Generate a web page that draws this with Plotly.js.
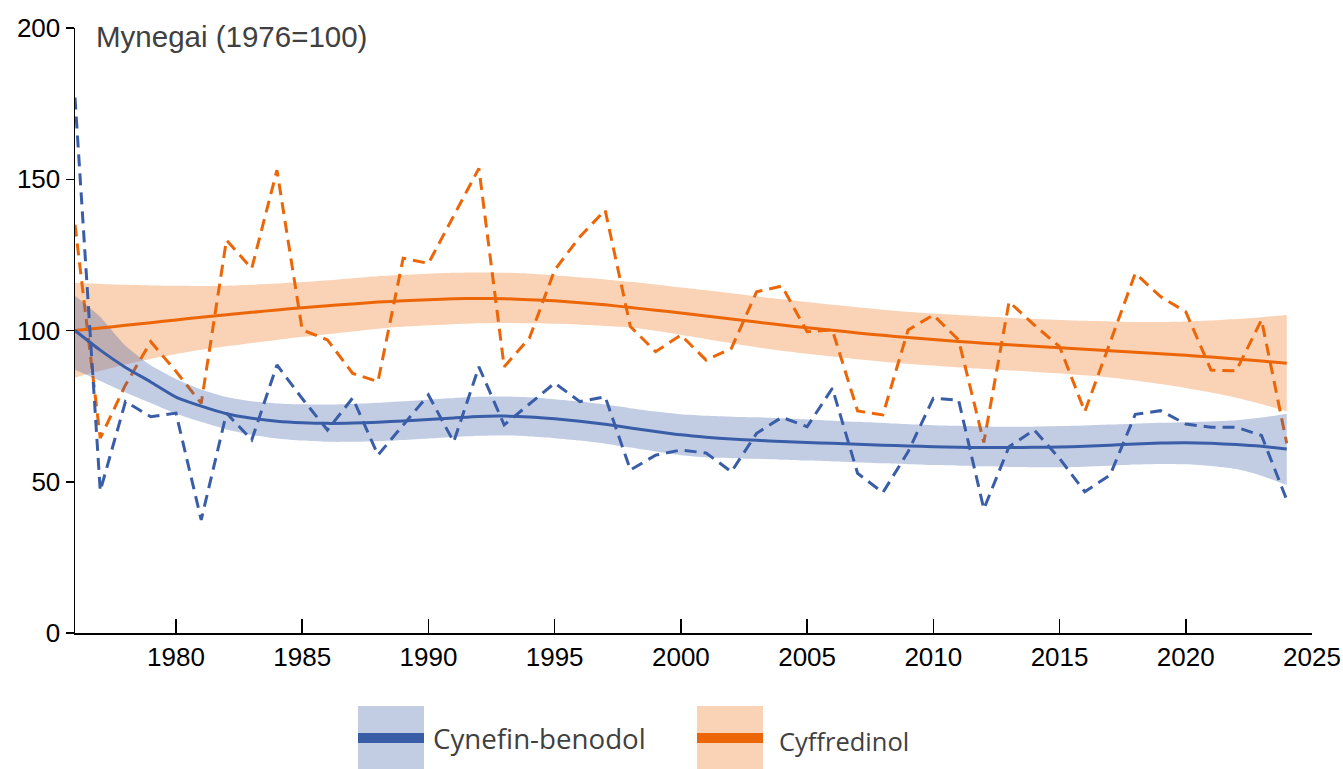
<!DOCTYPE html>
<html>
<head>
<meta charset="utf-8">
<script src="https://cdn.plot.ly/plotly-3.0.1.min.js"></script>
<style>html,body{margin:0;padding:0;background:#fff;}#chart{width:1343px;height:769px;}</style>
</head>
<body>
<div id="chart"></div>
<script>
const years = [1976,1977,1978,1979,1980,1981,1982,1983,1984,1985,1986,1987,1988,1989,1990,1991,1992,1993,1994,1995,1996,1997,1998,1999,2000,2001,2002,2003,2004,2005,2006,2007,2008,2009,2010,2011,2012,2013,2014,2015,2016,2017,2018,2019,2020,2021,2022,2023,2024];

const seriesNames = ["Cynefin-benodol", "Cyffredinol"];
const titleText = "Mynegai (1976=100)";
const xTicks = [1980,1985,1990,1995,2000,2005,2010,2015,2020,2025];
const yTicks = [0,50,100,150,200];

// Cynefin-benodol (blue)
const blueIndex = [177,47,76.5,71.5,72.7,37.4,72.7,63.8,88.6,77.5,67.1,77.7,58.8,68.9,78.7,63.2,88,68.8,75.7,82.6,76.5,78.1,53.9,58.8,60.5,59.5,53.3,66,71.3,68.2,80.9,52.8,46.4,59.9,77.6,77,41,61.6,67.1,57.7,46.7,52.2,72.3,73.5,69.1,68,68,65.3,44];
const blueTrend = [100,93.5,87.8,83,78,75,72.5,71,70,69.5,69.3,69.4,69.7,70.1,70.6,71.1,71.6,71.7,71.4,70.8,70,69,67.8,66.6,65.5,64.7,64.1,63.7,63.3,63,62.7,62.4,62.1,61.8,61.6,61.4,61.3,61.3,61.4,61.5,61.7,62.1,62.5,62.8,62.9,62.7,62.3,61.7,60.8];
const blueUpper = [111.5,104.5,95,88.5,84,80.5,78,76.6,75.9,75.6,75.5,75.7,76.1,76.6,77.2,77.7,78.1,78.2,77.9,77.3,76.5,75.5,74.3,73.2,72.3,71.8,71.5,71.3,71,70.6,70.2,69.8,69.4,69,68.7,68.5,68.3,68.2,68.2,68.4,68.6,68.9,69.2,69.5,69.7,69.9,70.3,71.2,72.5];
const blueLower = [87,83.3,79.5,76,72.5,69.8,67.3,65.5,64.3,63.6,63.2,63.2,63.4,63.8,64.3,64.8,65.2,65.3,65,64.4,63.6,62.6,61.3,60,58.8,58.1,57.8,57.6,57.3,57,56.7,56.4,56.1,55.8,55.5,55.3,55.1,54.9,54.8,54.8,55,55.3,55.7,55.9,55.8,55.2,54.2,52,48.9];

// Cyffredinol (orange)
const orangeIndex = [135,64.4,82,96.3,86.5,75.9,129.9,120.5,153,100.2,96.9,85.8,83.1,123.9,122.2,137.9,153.6,88,97.5,120,131,139.8,101.3,93,98.5,90.2,94.1,112.8,114.7,99.6,100.2,73.4,72.1,100.2,105.1,96.9,63,109.5,101.8,94.7,73.2,96,118.9,111.2,106.2,86.9,86.7,103.5,62.7];
const orangeTrend = [100,100.8,101.7,102.6,103.5,104.4,105.2,106,106.8,107.5,108.2,108.8,109.4,109.8,110.2,110.5,110.6,110.5,110.2,109.8,109.2,108.5,107.6,106.7,105.8,104.8,103.8,102.8,101.8,100.9,100.1,99.2,98.4,97.7,97,96.4,95.8,95.3,94.8,94.3,93.8,93.3,92.8,92.3,91.8,91.2,90.6,89.9,89.2];
const orangeUpper = [115.8,115.4,115.1,114.9,114.8,114.7,114.8,115.1,115.5,116,116.6,117.3,117.9,118.4,118.8,119.1,119.2,119.1,118.8,118.3,117.6,116.9,116.1,115.2,114.2,113.3,112.3,111.3,110.3,109.4,108.5,107.7,106.9,106.2,105.6,105.1,104.6,104.2,103.8,103.5,103.2,103,102.8,102.8,103,103.3,103.8,104.4,105.1];
const orangeLower = [84.5,86.7,88.8,90.6,92.2,93.6,94.8,95.9,96.9,97.9,98.8,99.7,100.6,101.2,101.7,102.1,102.4,102.5,102.4,102.2,101.9,101.5,101,99.9,98.6,97.2,95.8,94.5,93.3,92.3,91.4,90.5,89.7,89,88.4,87.8,87.3,86.8,86.3,85.8,85.2,84.5,83.5,82.3,81,79.5,77.8,75.7,73.2];

const BLUE = "#3A5DA8";
const ORANGE = "#EC6608";
const BLUE_BAND = "rgba(58,93,168,0.31)";
const ORANGE_BAND = "rgba(238,106,10,0.30)";

function bandEdge(y, fillcolor) {
  const t = {
    x: years, y: y, type: "scatter", mode: "lines",
    line: {width: 0, color: "rgba(0,0,0,0)", shape: "spline", smoothing: 0.6},
    hoverinfo: "skip", showlegend: false
  };
  if (fillcolor) { t.fill = "tonexty"; t.fillcolor = fillcolor; }
  return t;
}
function line(y, color, dash, width, spline) {
  return {
    x: years, y: y, type: "scatter", mode: "lines",
    line: {color: color, width: width, dash: dash, shape: spline ? "spline" : "linear", smoothing: 0.6},
    showlegend: false
  };
}

const data = [
  bandEdge(orangeUpper, null),
  bandEdge(orangeLower, ORANGE_BAND),
  line(orangeIndex, ORANGE, "12px,7px", 3, false),
  bandEdge(blueUpper, null),
  bandEdge(blueLower, BLUE_BAND),
  line(orangeTrend, ORANGE, "solid", 3, true),
  line(blueIndex, BLUE, "12px,7px", 3, false),
  line(blueTrend, BLUE, "solid", 3, true)
];

// legend geometry (paper coordinates of plot area: x 75..1312, y 28..633 px)
const L = 75, W = 1237, B = 633, H = 605;
const px = v => (v - L) / W;
const py = v => (B - v) / H;

const shapes = [
  {type: "rect", xref: "paper", yref: "paper", x0: px(358), x1: px(424), y0: py(769), y1: py(706), fillcolor: BLUE_BAND, line: {width: 0}},
  {type: "rect", xref: "paper", yref: "paper", x0: px(358), x1: px(424), y0: py(743), y1: py(733), fillcolor: BLUE, line: {width: 0}},
  {type: "rect", xref: "paper", yref: "paper", x0: px(697), x1: px(763), y0: py(769), y1: py(706), fillcolor: ORANGE_BAND, line: {width: 0}},
  {type: "rect", xref: "paper", yref: "paper", x0: px(697), x1: px(763), y0: py(743), y1: py(733), fillcolor: ORANGE, line: {width: 0}}
];
const annotations = [
  {text: seriesNames[0], xref: "paper", yref: "paper", x: px(431), y: py(738), xanchor: "left", yanchor: "middle", showarrow: false,
   font: {family: "Open Sans, Noto Sans, sans-serif", size: 27.7, color: "#404040"}},
  {text: seriesNames[1], xref: "paper", yref: "paper", x: px(777), y: py(741), xanchor: "left", yanchor: "middle", showarrow: false,
   font: {family: "Open Sans, Noto Sans, sans-serif", size: 25.5, color: "#404040"}}
];

const tickFont = {family: "Liberation Sans Narrow, Arial Narrow, Liberation Sans, sans-serif", size: 26, color: "#000"};

const layout = {
  width: 1343, height: 769,
  margin: {l: 75, r: 31, t: 28, b: 136, pad: 0},
  paper_bgcolor: "#fff", plot_bgcolor: "#fff",
  showlegend: false,
  title: {text: titleText, x: px(96), xref: "paper", xanchor: "left", y: 1 - 37/769, yref: "container", yanchor: "middle",
          font: {family: "Liberation Sans, Arial, sans-serif", size: 29.5, color: "#404040"}},
  xaxis: {range: [1976, 2025], tickvals: xTicks, ticktext: xTicks.map(String), ticks: "inside", ticklen: 14, tickwidth: 1.5, tickcolor: "#000",
          showline: true, linecolor: "#000", linewidth: 1.5, showgrid: false, zeroline: false, tickfont: tickFont, fixedrange: true},
  yaxis: {range: [0, 200], tickvals: yTicks, ticktext: yTicks.map(String), ticks: "outside", ticklen: 8, tickwidth: 1.5, tickcolor: "#000",
          showline: true, linecolor: "#000", linewidth: 1.5, showgrid: false, zeroline: false, tickfont: tickFont, fixedrange: true},
  shapes: shapes,
  annotations: annotations
};

Plotly.newPlot("chart", data, layout, {displayModeBar: false, staticPlot: true});
</script>
</body>
</html>
